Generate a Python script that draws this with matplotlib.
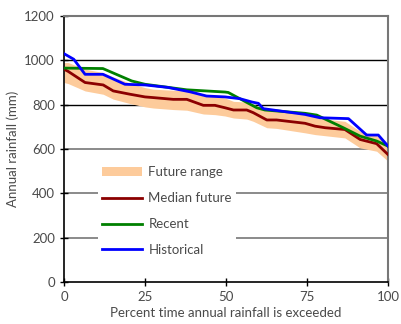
import matplotlib
matplotlib.use("Agg")
import matplotlib.pyplot as plt
from matplotlib.patches import Patch
from matplotlib.lines import Line2D

plt.rcParams['font.family'] = ['Lato', 'DejaVu Sans']

# Historical rainfall exceedance curve
hist_x = [0, 3, 6.5, 12, 18.8, 25, 32, 38.9, 44, 49.7, 54.3, 58, 60, 61.5, 74.4, 79, 87.8, 93.4, 97, 100]
hist_y = [1030, 1005, 937, 937, 892, 889, 878, 858, 839, 835, 827, 812, 806, 782, 756, 741, 737, 663, 663, 613]

# Recent rainfall exceedance curve
recent_x = [0, 12, 20.9, 25, 37.9, 49.7, 50.7, 59.5, 62, 74.4, 78, 86.2, 91.4, 96.5, 100]
recent_y = [965, 963, 907, 892, 867, 857, 855, 786, 776, 761, 753, 696, 658, 636, 613]

# Future projections: median and range
future_x = [0, 1.3, 6.5, 12.1, 15.2, 20.4, 25, 27.5, 33.7, 37.9, 43, 46.6, 49.7,
            52.3, 56.4, 58.4, 62.6, 65.6, 74.4, 77.5, 80.6, 86.7, 91.4, 96.5, 100]
median_y = [960, 950, 900, 889, 862, 847, 835, 832, 824, 824, 797, 797, 786,
            776, 776, 764, 731, 731, 716, 703, 696, 688, 643, 624, 575]
upper_y = [990, 990, 960, 945, 925, 897, 877, 870, 865, 862, 840, 838, 830,
           815, 812, 802, 775, 770, 755, 745, 735, 725, 680, 660, 620]
lower_y = [900, 895, 862, 847, 825, 805, 790, 785, 778, 775, 758, 755, 749,
           740, 735, 725, 696, 693, 673, 665, 660, 650, 605, 590, 545]

x_ticks = [0, 25, 50, 75, 100]
y_ticks = [0, 200, 400, 600, 800, 1000, 1200]

band_color = '#FDCB9B'
median_color = '#8B0000'
recent_color = '#008000'
hist_color = '#0000FF'
text_color = '#4a4a4a'

fig = plt.figure(figsize=(4.01, 3.24), dpi=100)
ax = fig.add_axes([0.1596, 0.1296, 0.808, 0.821])

for yv in [200, 400, 600]:
    ax.axhline(yv, color='#777777', lw=1.2, zorder=1)
for yv in [800, 1000]:
    ax.axhline(yv, color='black', lw=1.0, zorder=1)

ax.fill_between(future_x, lower_y, upper_y, color=band_color, lw=0, zorder=2)
ax.plot(future_x, median_y, color=median_color, lw=2.0, zorder=3)
ax.plot(recent_x, recent_y, color=recent_color, lw=2.0, zorder=4)
ax.plot(hist_x, hist_y, color=hist_color, lw=2.0, zorder=5)

ax.set_xlim(0, 100)
ax.set_ylim(0, 1200)
ax.set_xticks(x_ticks)
ax.set_yticks(y_ticks)
ax.tick_params(direction='inout', length=6, width=1, colors='black',
               labelcolor=text_color, labelsize=9.5)
for side in ['left', 'bottom']:
    ax.spines[side].set_color('black')
    ax.spines[side].set_linewidth(1.2)
for side in ['top', 'right']:
    ax.spines[side].set_color('#777777')
    ax.spines[side].set_linewidth(1.5)

ax.set_xlabel('Percent time annual rainfall is exceeded', color=text_color, fontsize=9.5, labelpad=3)
ax.set_ylabel('Annual rainfall (mm)', color=text_color, fontsize=9.5, labelpad=4)

handles = [
    Patch(facecolor=band_color, edgecolor='none'),
    Line2D([], [], color=median_color, lw=2.0),
    Line2D([], [], color=recent_color, lw=2.0),
    Line2D([], [], color=hist_color, lw=2.0),
]
labels = ['Future range', 'Median future', 'Recent', 'Historical']
leg = ax.legend(handles, labels, loc='upper left', bbox_to_anchor=(0.085, 0.475),
                frameon=True, fancybox=False, framealpha=1, edgecolor='none',
                facecolor='white', fontsize=9.5, labelcolor=text_color,
                handlelength=3.0, handleheight=0.6, handletextpad=0.5,
                labelspacing=1.05, borderpad=0.3)
leg.set_zorder(6)

fig.savefig('out.png', dpi=100)
